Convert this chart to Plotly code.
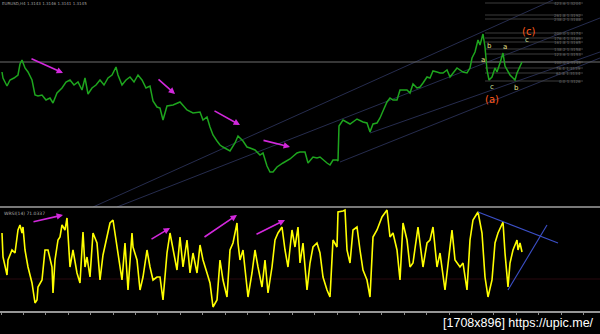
import plotly.graph_objects as go

# ---------------- data ----------------
bars = [2,3,7,10,14,18,20,22,25,28,32,35,38,42,46,50,53,57,62,66,70,74,78,82,85,88,92,96,100,104,
        108,112,116,118,122,126,130,134,138,142,146,150,153,157,160,163,167,173,180,187,193,200,203,207,
        210,213,217,220,223,230,235,238,243,247,250,255,260,263,267,270,273,277,283,290,297,300,305,308,
        313,317,320,323,327,330,333,337,338,339,343,350,357,363,367,370,373,377,380,383,387,390,393,397,
        400,403,407,410,413,417,420,423,427,430,433,437,440,443,447,450,453,457,463,467,470,472,475,478,
        480,482,483,485,486,487,489,492,495,497,500,502,503,505,508,510,513,515,517,520,522]
price = [1.3135,1.3129,1.3121,1.3127,1.3129,1.3132,1.3143,1.3147,1.3139,1.3135,1.3127,1.3112,1.3111,1.3112,
         1.3107,1.3109,1.3104,1.3114,1.3119,1.3125,1.3127,1.3122,1.3125,1.3117,1.3129,1.3113,1.3119,1.3122,
         1.3127,1.3122,1.3129,1.3132,1.3140,1.3132,1.3122,1.3127,1.3130,1.3125,1.3132,1.3127,1.3119,1.3121,
         1.3106,1.3100,1.3099,1.3087,1.3101,1.3102,1.3105,1.3097,1.3094,1.3095,1.3087,1.3090,1.3080,1.3072,
         1.3066,1.3062,1.3060,1.3056,1.3064,1.3071,1.3066,1.3060,1.3059,1.3057,1.3052,1.3054,1.3041,1.3035,
         1.3035,1.3040,1.3044,1.3048,1.3054,1.3055,1.3055,1.3044,1.3050,1.3049,1.3050,1.3047,1.3044,1.3042,
         1.3047,1.3047,1.3046,1.3081,1.3087,1.3083,1.3088,1.3085,1.3084,1.3075,1.3083,1.3084,1.3089,1.3096,
         1.3105,1.3109,1.3107,1.3107,1.3117,1.3117,1.3117,1.3114,1.3123,1.3119,1.3120,1.3124,1.3130,1.3129,
         1.3136,1.3135,1.3134,1.3134,1.3137,1.3130,1.3134,1.3139,1.3135,1.3134,1.3139,1.3149,1.3155,1.3167,
         1.3162,1.3170,1.3173,1.3160,1.3147,1.3137,1.3127,1.3130,1.3139,1.3135,1.3144,1.3152,1.3154,1.3141,
         1.3135,1.3132,1.3129,1.3127,1.3134,1.3141,1.3145]

osc_bars = [2,3,7,8,12,15,18,20,22,23,25,28,32,35,37,38,42,45,48,52,53,55,58,60,62,65,67,68,70,73,77,80,
            83,85,87,90,93,97,100,103,107,110,113,115,118,122,125,128,132,133,137,140,143,147,150,153,157,
            160,163,167,170,173,177,180,183,187,190,193,197,200,203,207,210,213,217,220,223,227,230,233,237,
            238,240,243,247,248,252,255,258,262,265,268,272,275,278,282,285,288,292,295,298,300,303,307,310,
            313,317,320,323,327,330,332,333,337,338,343,345,347,350,353,357,360,363,367,370,373,377,382,387,
            390,393,397,400,403,407,410,413,418,423,427,430,433,437,440,445,447,452,455,460,463,467,470,473,
            478,482,485,488,492,495,498,502,503,505,508,510,513,517,518,520,522]
osc = [76,52,34,49,59,56,79,84,76,82,59,42,26,6,9,22,29,59,59,42,16,49,69,72,84,79,91,77,42,59,36,26,
       77,42,52,32,76,66,29,54,72,86,89,76,56,29,66,19,76,62,49,19,32,59,42,29,32,
       32,9,56,76,59,39,72,42,69,36,56,36,64,49,36,26,2,9,49,29,12,59,66,86,
       66,49,59,22,12,36,59,42,22,49,16,42,69,76,82,59,42,79,62,82,46,66,19,46,
       62,66,56,32,19,12,59,69,62,97,98,99,59,46,79,82,59,39,29,12,72,79,92,99,
       72,76,59,29,86,69,42,46,82,42,66,69,82,42,56,19,36,79,49,42,46,19,69,89,
       97,76,32,12,29,66,76,86,87,56,22,46,59,69,59,66,57]

hline_price = 1.3145
fib_levels = [1.3204,1.3192,1.3188,1.3174,1.3169,1.3165,1.3158,1.3153,1.3145,1.3139,1.3134,1.3126]
fib_pcts = ["423.6","261.8","238.2","200.0","176.4","161.8","138.2","123.6","100.0","76.4","61.8","0.0"]
fib_from, fib_to = 485, 583

channels = [((93, 1.3000), (553, 1.3207)),
            ((117, 1.3000), (600, 1.3189)),
            ((370, 1.3074), (600, 1.3155)),
            ((340, 1.3045), (600, 1.3149))]

osc_lines = [((478, 97), (558, 66)), ((508, 19), (547, 84))]

price_arrows = [((30, 1.3149), (63, 1.3134)), ((157, 1.3129), (175, 1.3113)),
                ((213, 1.3097), (240, 1.3082)), ((262, 1.3067), (290, 1.3060))]
osc_arrows = [((32, 87), (63, 94)), ((150, 69), (170, 81)),
              ((203, 71), (237, 94)), ((255, 74), (285, 89))]

wave_labels = [("(c)", 528, 1.3176, "#ff5a1a", 10), ("c", 527, 1.3167, "#d8e6a0", 7),
               ("b", 489, 1.3161, "#e6e08a", 7), ("a", 505, 1.3160, "#e6e08a", 7),
               ("a", 483, 1.3147, "#e6e08a", 7), ("c", 492, 1.3120, "#d8e6a0", 7),
               ("b", 516, 1.3119, "#e6e08a", 7), ("(a)", 492, 1.3108, "#ff5a1a", 10)]

# ---------------- figure ----------------
W, H = 600, 334
top_lo = 1 - 207 / H
bot_lo = 1 - 311 / H

fig = go.Figure()

for (x0, y0), (x1, y1) in channels:
    fig.add_trace(go.Scatter(x=[x0, x1], y=[y0, y1], mode="lines",
                             line=dict(color="rgb(38,44,78)", width=1),
                             xaxis="x", yaxis="y", hoverinfo="skip"))
for lv in fib_levels:
    fig.add_trace(go.Scatter(x=[fib_from, fib_to], y=[lv, lv], mode="lines",
                             line=dict(color="rgb(60,60,60)", width=1),
                             xaxis="x", yaxis="y", hoverinfo="skip"))
fig.add_trace(go.Scatter(x=[0, 600], y=[hline_price, hline_price], mode="lines",
                         line=dict(color="rgb(110,110,110)", width=1.2), xaxis="x", yaxis="y"))

fig.add_trace(go.Scatter(x=bars, y=price, mode="lines",
                         line=dict(color="rgb(30,165,30)", width=1.5), xaxis="x", yaxis="y"))

fig.add_trace(go.Scatter(x=[0, 600], y=[30, 30], mode="lines",
                         line=dict(color="rgb(40,8,14)", width=1), xaxis="x2", yaxis="y2"))
fig.add_trace(go.Scatter(x=osc_bars, y=osc, mode="lines",
                         line=dict(color="rgb(255,255,0)", width=1.6), xaxis="x2", yaxis="y2"))
for (x0, y0), (x1, y1) in osc_lines:
    fig.add_trace(go.Scatter(x=[x0, x1], y=[y0, y1], mode="lines",
                             line=dict(color="rgb(60,80,200)", width=1.1),
                             xaxis="x2", yaxis="y2"))

ann = []
for (x0, y0), (x1, y1) in price_arrows:
    ann.append(dict(x=x1, y=y1, ax=x0, ay=y0, xref="x", yref="y", axref="x", ayref="y",
                    showarrow=True, arrowhead=2, arrowsize=0.8, arrowwidth=1.6,
                    arrowcolor="rgb(210,40,220)", text=""))
for (x0, y0), (x1, y1) in osc_arrows:
    ann.append(dict(x=x1, y=y1, ax=x0, ay=y0, xref="x2", yref="y2", axref="x2", ayref="y2",
                    showarrow=True, arrowhead=2, arrowsize=0.8, arrowwidth=1.6,
                    arrowcolor="rgb(210,40,220)", text=""))
for t, x, y, c, s in wave_labels:
    ann.append(dict(x=x, y=y, xref="x", yref="y", text=t, showarrow=False,
                    font=dict(color=c, size=s, family="DejaVu Sans"), xanchor="center", yanchor="middle"))
for lv, p in zip(fib_levels, fib_pcts):
    ann.append(dict(x=fib_to, y=lv, xref="x", yref="y", text=f"{p} {lv:.4f}", showarrow=False,
                    font=dict(color="rgb(105,105,105)", size=4, family="DejaVu Sans"),
                    xanchor="right", yanchor="middle"))
ann.append(dict(x=0, y=1, xref="paper", yref="paper", xanchor="left", yanchor="top",
                text="EURUSD,H4 1.3143 1.3146 1.3141 1.3145", showarrow=False, yshift=1,
                font=dict(color="rgb(160,160,160)", size=4, family="DejaVu Sans")))
ann.append(dict(x=2 / W, y=1 - 209 / H, xref="paper", yref="paper", xanchor="left", yanchor="top",
                text="WRSI(14) 71.0337", showarrow=False,
                font=dict(color="rgb(170,170,170)", size=4.5, family="DejaVu Sans")))
ann.append(dict(x=596 / W, y=1 - 323 / H, xref="paper", yref="paper", xanchor="right", yanchor="middle",
                text="[1708x896] https://upic.me/", showarrow=False,
                font=dict(color="white", size=12.5, family="Liberation Sans")))

shapes = [dict(type="line", xref="paper", yref="paper", x0=0, x1=1, y0=top_lo, y1=top_lo,
               line=dict(color="rgb(160,160,160)", width=1.5))]

fig.update_layout(
    width=W, height=H, margin=dict(l=0, r=0, t=0, b=0),
    paper_bgcolor="black", plot_bgcolor="black", showlegend=False,
    xaxis=dict(domain=[0, 1], range=[0, 600], visible=False, anchor="y"),
    yaxis=dict(domain=[top_lo, 1], range=[1.3000, 1.3207], visible=False, anchor="x"),
    xaxis2=dict(domain=[0, 1], range=[0, 600], anchor="y2", showgrid=False, zeroline=False,
                showticklabels=False, ticks="outside", ticklen=2, tickcolor="rgb(140,140,140)",
                tick0=1, dtick=22.4, showline=True, linecolor="rgb(150,150,150)", linewidth=1.5),
    yaxis2=dict(domain=[bot_lo, top_lo], range=[-2, 102], visible=False, anchor="x2"),
    annotations=ann, shapes=shapes,
)

fig.write_html("out.html")
